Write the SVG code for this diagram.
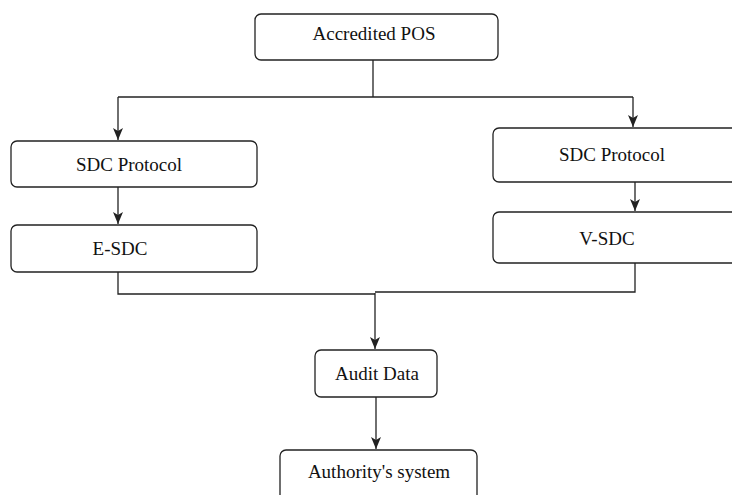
<svg xmlns="http://www.w3.org/2000/svg" width="732" height="495" viewBox="0 0 732 495">
<style>
.box{fill:#fff;stroke:#222;stroke-width:1.3}
.lbl{font-family:"Liberation Serif","Times New Roman",serif;font-size:19px;fill:#111;text-anchor:middle}
.wire{fill:none;stroke:#222;stroke-width:1.3}
</style>
<defs>
<marker id="ah" markerWidth="12" markerHeight="10" refX="12" refY="5" orient="auto" markerUnits="userSpaceOnUse" viewBox="0 0 12 10">
<path d="M0,0 L3,5 L0,10 L12,5 Z" fill="#222"/>
</marker>
</defs>
<rect width="732" height="495" fill="#fff"/>
<g id="connectors">
<path class="wire" d="M373,60 V97"/>
<path class="wire" d="M118,97 H633"/>
<path class="wire" d="M118,97 V140" marker-end="url(#ah)"/>
<path class="wire" d="M633,97 V127" marker-end="url(#ah)"/>
<path class="wire" d="M118,187 V224" marker-end="url(#ah)"/>
<path class="wire" d="M635,182 V211" marker-end="url(#ah)"/>
<path class="wire" d="M118,272 V294 H375"/>
<path class="wire" d="M635,263 V292 H375"/>
<path class="wire" d="M375,293 V349" marker-end="url(#ah)"/>
<path class="wire" d="M376,397 V449" marker-end="url(#ah)"/>
</g>
<g id="n-pos">
<rect class="box" x="255" y="14" width="243" height="46" rx="6"/>
<text class="lbl" x="374" y="40">Accredited POS</text>
</g>
<g id="n-sdc-left">
<rect class="box" x="11" y="141" width="246" height="46" rx="6"/>
<text class="lbl" x="129" y="171">SDC Protocol</text>
</g>
<g id="n-esdc">
<rect class="box" x="11" y="225" width="246" height="47" rx="6"/>
<text class="lbl" x="120" y="255">E-SDC</text>
</g>
<g id="n-sdc-right">
<rect class="box" x="493" y="128" width="250" height="54" rx="6"/>
<text class="lbl" x="612" y="161">SDC Protocol</text>
</g>
<g id="n-vsdc">
<rect class="box" x="493" y="212" width="250" height="51" rx="6"/>
<text class="lbl" x="607" y="245">V-SDC</text>
</g>
<g id="n-audit">
<rect class="box" x="315" y="350" width="122" height="47" rx="6"/>
<text class="lbl" x="377" y="380">Audit Data</text>
</g>
<g id="n-authority">
<rect class="box" x="280" y="450" width="197" height="60" rx="6"/>
<text class="lbl" x="379" y="478">Authority's system</text>
</g>
</svg>
